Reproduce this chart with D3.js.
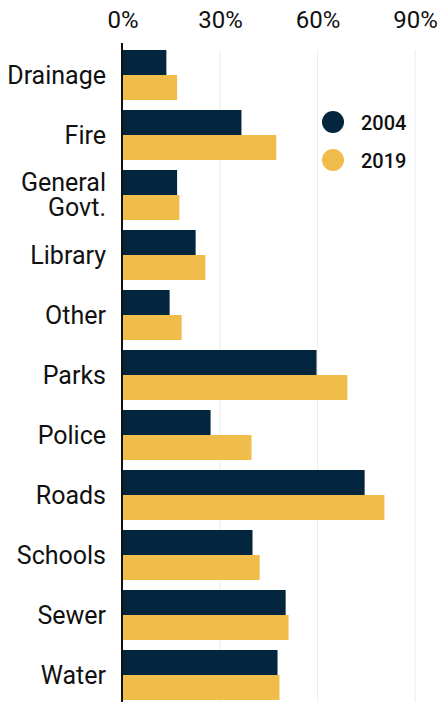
<!DOCTYPE html>
<html>
<head>
<meta charset="utf-8">
<script src="https://cdn.jsdelivr.net/npm/d3@7"></script>
<style>
  body { margin: 0; background: #fff; }
  svg { display: block; font-family: Roboto, "Noto Sans", sans-serif; }
</style>
</head>
<body>
<svg id="chart" width="438" height="702"></svg>
<script>
// categories, top to bottom
var categories = ["Drainage", "Fire", "General Govt.", "Library", "Other", "Parks",
  "Police", "Roads", "Schools", "Sewer", "Water"];
var years = ["2004", "2019"];
var values2004 = [13.5, 36.6, 16.8, 22.5, 14.5, 59.7, 27.1, 74.5, 40.0, 50.2, 47.7];
var values2019 = [16.8, 47.3, 17.5, 25.5, 18.2, 69.2, 39.7, 80.6, 42.2, 51.1, 48.3];
var tickValues = [0, 30, 60, 90];
var colors = ["#03253d", "#f0bd4a"];

var svg = d3.select("#chart");

var x = d3.scaleLinear().domain([0, 90]).range([122.5, 415]);

var y = d3.scaleBand()
  .domain(categories)
  .range([45, 705])
  .paddingInner(1 / 6)
  .paddingOuter(1 / 12);

var ySub = d3.scaleBand().domain(years).range([0, y.bandwidth()]);

// gridlines
svg.append("g")
  .selectAll("line")
  .data(tickValues.slice(1))
  .enter()
  .append("line")
  .attr("x1", d => x(d))
  .attr("x2", d => x(d))
  .attr("y1", 50)
  .attr("y2", 702)
  .attr("stroke", "#ececec")
  .attr("stroke-width", 1);

// top axis labels
let xAxis = d3.axisTop(x)
  .tickValues(tickValues)
  .tickFormat(d => d + "%")
  .tickSize(0)
  .tickPadding(0);

let axisG = svg.append("g")
  .attr("transform", "translate(0,28)")
  .call(xAxis);
axisG.select(".domain").remove();
axisG.selectAll("text")
  .attr("font-family", "Roboto, sans-serif")
  .attr("font-size", 24)
  .attr("fill", "#111")
  .attr("dy", 0);

// bars
let rows = categories.map((c, i) => ({ cat: c, vals: [values2004[i], values2019[i]] }));

let groups = svg.append("g")
  .selectAll("g")
  .data(rows)
  .enter()
  .append("g")
  .attr("transform", d => "translate(0," + y(d.cat) + ")");

groups.selectAll("rect")
  .data(d => d.vals.map((v, j) => ({ year: years[j], v: v, j: j })))
  .enter()
  .append("rect")
  .attr("x", x(0))
  .attr("y", d => ySub(d.year))
  .attr("width", d => x(d.v) - x(0))
  .attr("height", ySub.bandwidth())
  .attr("fill", d => colors[d.j]);

// category labels
groups.append("text")
  .attr("x", 106)
  .attr("text-anchor", "end")
  .attr("font-size", 25)
  .attr("fill", "#111")
  .each(function(d) {
    let lines = d.cat === "General Govt." ? ["General", "Govt."] : [d.cat];
    let t = d3.select(this);
    let mid = y.bandwidth() / 2;
    lines.forEach((l, k) => {
      t.append("tspan")
        .attr("x", 106)
        .attr("y", mid + 8.5 + (k - (lines.length - 1) / 2) * 24.5)
        .text(l);
    });
  });

// vertical axis line
svg.append("line")
  .attr("x1", x(0) - 0.5)
  .attr("x2", x(0) - 0.5)
  .attr("y1", 43)
  .attr("y2", 702)
  .attr("stroke", "#111")
  .attr("stroke-width", 2);

// legend
let legend = svg.append("g")
  .selectAll("g")
  .data(years)
  .enter()
  .append("g")
  .attr("transform", (d, i) => "translate(333," + (122 + i * 38) + ")");

legend.append("circle")
  .attr("r", 11)
  .attr("fill", (d, i) => colors[i]);

legend.append("text")
  .attr("x", 28)
  .attr("y", 7.5)
  .attr("font-size", 20)
  .attr("font-weight", 500)
  .attr("fill", "#111")
  .text(d => d);
</script>
</body>
</html>
